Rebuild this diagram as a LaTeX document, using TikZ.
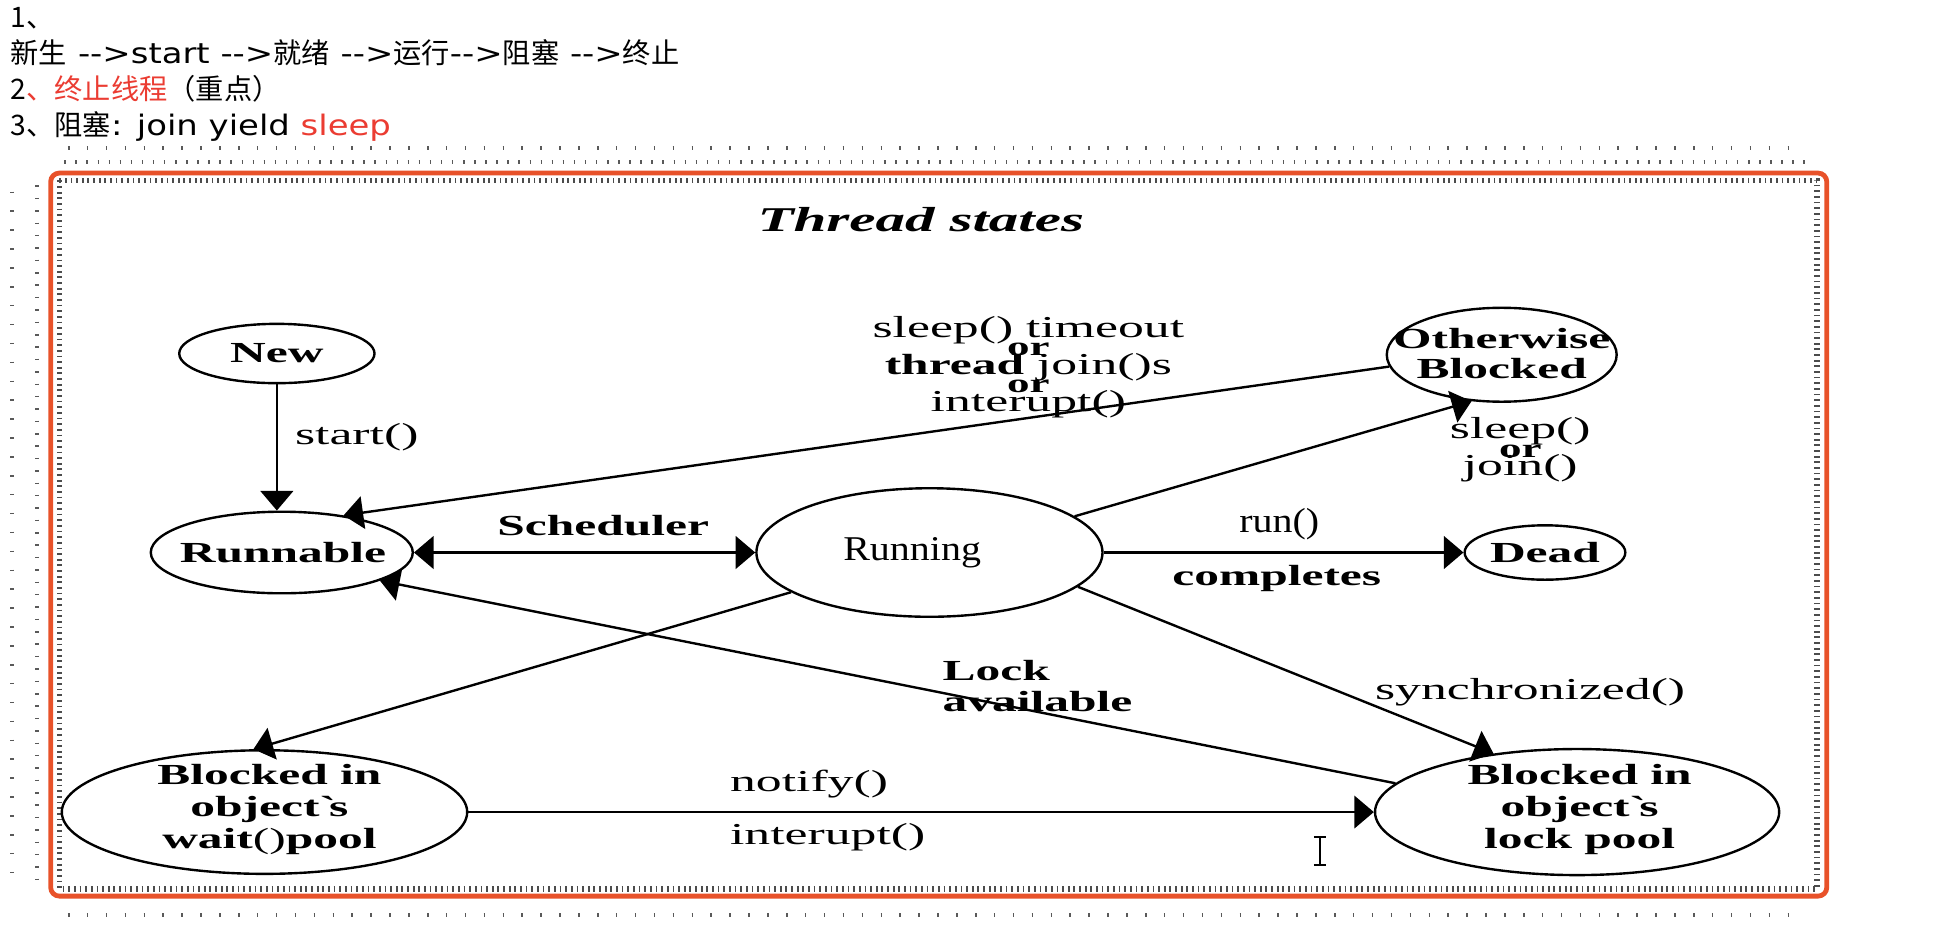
\documentclass[tikz,border=0pt]{standalone}
\usepackage{fontspec}
\usetikzlibrary{shapes.geometric,arrows.meta}
\newfontfamily\cjk{Noto Sans CJK SC}
\newfontfamily\lat{DejaVu Sans}[FakeStretch=1.2]
\newfontfamily\dgB{Liberation Serif}[FakeStretch=1.7]
\newfontfamily\dgR{Liberation Serif}[FakeStretch=1.7]
\newfontfamily\dgN{Liberation Serif}[FakeStretch=1.15]
\definecolor{boxred}{RGB}{232,82,42}
\definecolor{txtred}{RGB}{235,60,50}
\newcommand\fBold{\dgB\bfseries\fontsize{6.7}{7.2}\selectfont}
\newcommand\fOr{\dgB\bfseries\fontsize{6.1}{4.27}\selectfont}
\newcommand\fReg{\dgR\fontsize{7}{8}\selectfont}
\newcommand\fTight{\dgR\fontsize{7}{4.27}\selectfont\lineskiplimit=-20pt\lineskip=0pt}
\newcommand\fNat{\dgN\fontsize{8}{9}\selectfont}
\newcommand\fCJK{\fontsize{6.5}{7}\selectfont}
\tikzset{
  state/.style={ellipse, draw, line width=0.55pt, inner sep=0pt},
  txt/.style={inner sep=0pt, align=center},
  arr/.style={line width=0.55pt, -{Triangle[length=4.5pt,width=7.5pt]}},
  darr/.style={line width=0.55pt, {Triangle[length=4.5pt,width=7.5pt]}-{Triangle[length=4.5pt,width=7.5pt]}},
  dots/.style={black!65, line width=0.9pt, dash pattern=on 0.35pt off 4pt},
}
\begin{document}
\begin{tikzpicture}
\useasboundingbox (0,0) rectangle (15.68,-7.52);
\fill[white] (0,0) rectangle (15.68,-7.52);

% header text
\node[txt, anchor=west, font=\fCJK] (h1) at (0.08,-0.15) {\cjk 1、};
\node[txt, anchor=west, font=\fCJK] (h2) at (0.08,-0.43) {{\cjk 新生}{\lat\ -{}->start -{}->}{\cjk 就绪}{\lat\ -{}->}{\cjk 运行}{\lat -{}->}{\cjk 阻塞}{\lat\ -{}->}{\cjk 终止}};
\node[txt, anchor=west, font=\fCJK] (h3) at (0.08,-0.72) {{\cjk 2\textcolor{txtred}{、终止线程}（重点）}};
\node[txt, anchor=west, font=\fCJK] (h4) at (0.08,-1.02) {{\cjk 3、阻塞}{\lat : join yield \textcolor{txtred}{sleep}}};

% frame
\draw[dots] (0.55,-1.20) -- (14.60,-1.20);
\draw[dots, dash pattern=on 0.35pt off 2.2pt] (0.52,-1.31) -- (14.62,-1.31);
\draw[dots] (0.10,-1.55) -- (0.10,-7.10);
\draw[dots, dash pattern=on 0.35pt off 2.5pt] (0.30,-1.50) -- (0.30,-7.15);
\draw[dots] (0.55,-7.40) -- (14.60,-7.40);
\draw[black!70, line width=1.3pt, dash pattern=on 0.4pt off 0.9pt] (0.48,-1.46) rectangle (14.70,-7.19);
\draw[boxred, line width=1.1pt, rounded corners=2pt] (0.41,-1.40) rectangle (14.78,-7.25);

% title
\node[txt, font={\dgB\bfseries\itshape\fontsize{8}{9}\selectfont}] (title) at (7.45,-1.78) {Thread states};

% states
\node[state, minimum width=1.58cm, minimum height=0.48cm] (new) at (2.24,-2.86) {};
\node[state, minimum width=2.12cm, minimum height=0.66cm] (rbl) at (2.28,-4.47) {};
\node[state, minimum width=2.80cm, minimum height=1.04cm] (run) at (7.52,-4.47) {};
\node[state, minimum width=1.86cm, minimum height=0.76cm] (ob) at (12.15,-2.87) {};
\node[state, minimum width=1.30cm, minimum height=0.44cm] (dead) at (12.50,-4.47) {};
\node[state, minimum width=3.28cm, minimum height=1.00cm] (wait) at (2.14,-6.57) {};
\node[state, minimum width=3.27cm, minimum height=1.02cm] (lock) at (12.76,-6.57) {};

\node[txt, font=\fBold] (new-t) at (new) {New};
\node[txt, font=\fBold] (rbl-t) at (2.29,-4.47) {Runnable};
\node[txt, font=\fNat] (run-t) at (7.38,-4.47) {Running};
\node[txt, font={\dgB\bfseries\fontsize{6.7}{6.8}\selectfont}] (ob-t) at (12.15,-2.86) {Otherwise\\Blocked};
\node[txt, font=\fBold] (dead-t) at (dead) {Dead};
\node[txt, font={\dgB\bfseries\fontsize{6.7}{7.3}\selectfont}] (wait-t) at (2.18,-6.55) {Blocked in\\object\textasciigrave s\\wait{\mdseries()}pool};
\node[txt, font={\dgB\bfseries\fontsize{6.7}{7.3}\selectfont}] (lock-t) at (12.78,-6.55) {Blocked in\\object\textasciigrave s\\lock pool};

% connectors
\draw[arr] (new.south) -- (new.south |- rbl.north);
\draw[darr] (rbl.east) -- (run.west);
\draw[arr] (run.east) -- (dead.west);
\draw[arr] (ob.186) -- (rbl.31);
\draw[arr] (run.14) -- (ob.237);
\draw[arr] (run.196) -- (wait.100);
\draw[arr] (lock.171) -- (rbl.344);
\draw[arr] (run.347) -- (lock.145);
\draw[arr] (wait.east) -- (lock.west);

% edge labels
\node[txt, anchor=west, font=\fReg] (l-start) at (2.38,-3.54) {start()};
\node[txt, font=\fBold] (l-sched) at (4.88,-4.25) {Scheduler};
\node[txt, font=\fNat] (l-run) at (10.35,-4.24) {run()};
\node[txt, font=\fBold] (l-comp) at (10.33,-4.68) {completes};
\node[txt, anchor=north, font=\fTight] (l-sleep) at (8.32,-2.55)
  {sleep() timeout\\{\fOr or}\\{\fOr\fontsize{6.7}{4.27}\selectfont thread} join()s\\{\fOr or}\\interupt()};
\node[txt, anchor=north, font=\fTight] (l-join) at (12.30,-3.37)
  {sleep()\\{\fOr or}\\join()};
\node[txt, anchor=west, align=left, font={\dgB\bfseries\fontsize{6.7}{7.1}\selectfont}] (l-lock) at (7.62,-5.55) {Lock\\available};
\node[txt, font=\fReg] (l-sync) at (12.38,-5.60) {synchronized()};
\node[txt, anchor=west, font=\fReg] (l-not) at (5.90,-6.34) {notify()};
\node[txt, anchor=west, font=\fReg] (l-int) at (5.90,-6.77) {interupt()};

% text cursor
\draw[line width=0.5pt] (10.68,-6.77) -- (10.68,-7.00)
  (10.63,-6.77) -- (10.73,-6.77) (10.63,-7.00) -- (10.73,-7.00);
\end{tikzpicture}
\end{document}
